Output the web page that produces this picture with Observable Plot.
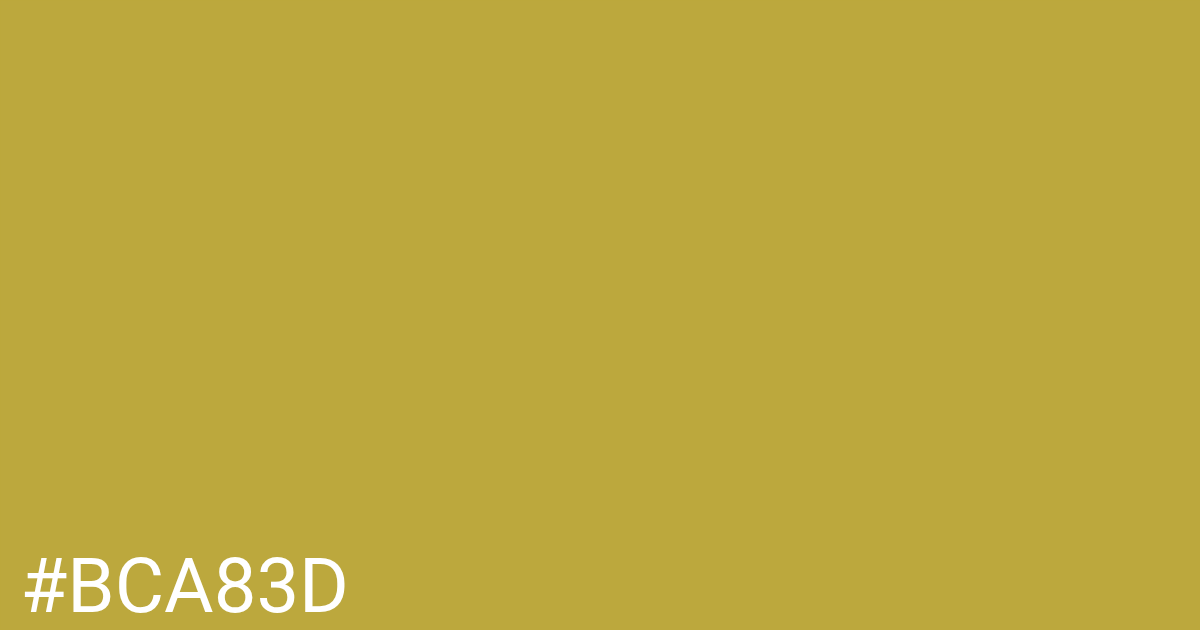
<!DOCTYPE html>
<html>
<head>
<meta charset="utf-8">
<script src="https://cdn.jsdelivr.net/npm/d3@7"></script>
<script src="https://cdn.jsdelivr.net/npm/@observablehq/plot@0.6"></script>
<style>
  html, body { margin: 0; padding: 0; background: #BCA83D; overflow: hidden; }
  #chart svg { display: block; }
</style>
</head>
<body>
<div id="chart"></div>
<script>
const swatchColors = ["#BCA83D"];
const swatchLabels = ["#BCA83D"];

const chart = Plot.plot({
  width: 1200,
  height: 630,
  margin: 0,
  style: { background: swatchColors[0] },
  x: { axis: null },
  y: { axis: null },
  marks: [
    Plot.frame({ fill: swatchColors[0], stroke: null }),
    Plot.text(swatchLabels, {
      text: d => d,
      frameAnchor: "bottom-left",
      textAnchor: "start",
      lineAnchor: "bottom",
      dx: 20,
      dy: -19,
      fill: "white",
      fontSize: 76,
      fontFamily: "Roboto",
      fontWeight: 400
    })
  ]
});
document.getElementById("chart").appendChild(chart);
</script>
</body>
</html>
